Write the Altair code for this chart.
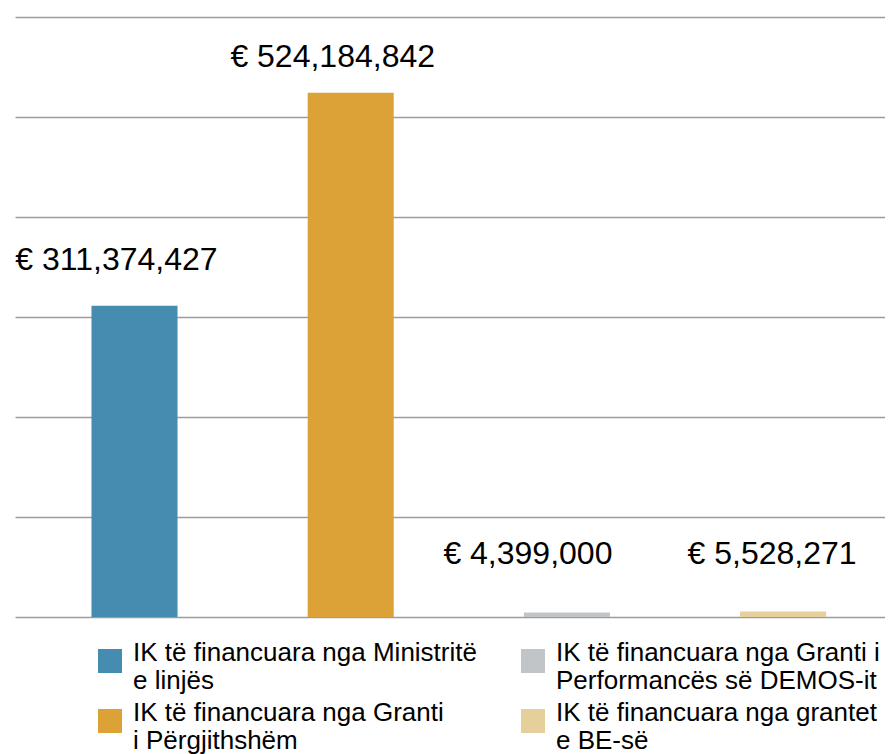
import altair as alt
import pandas as pd

categories = [
    "IK të financuara nga Ministritë|e linjës",
    "IK të financuara nga Granti|i Përgjithshëm",
    "IK të financuara nga Granti i|Performancës së DEMOS-it",
    "IK të financuara nga grantet|e BE-së",
]
values = [311374427, 524184842, 4399000, 5528271]
colors = ["#468bb0", "#dca238", "#c1c5c8", "#e5cf9a"]
grid_values = [0, 100000000, 200000000, 300000000, 400000000, 500000000, 600000000]

df = pd.DataFrame({"cat": categories, "value": values})

FONT = "Liberation Sans"

base = alt.Chart(df).encode(
    x=alt.X("cat:N", sort=categories, axis=None,
            scale=alt.Scale(paddingInner=0.602, paddingOuter=0.313, align=0.565)),
    y=alt.Y("value:Q", scale=alt.Scale(domain=[0, 600000000], nice=False),
            axis=alt.Axis(values=grid_values, grid=True, gridColor="#9c9c9c",
                          gridWidth=1.5, domain=False, ticks=False, labels=False,
                          title=None)),
)

bars = base.mark_bar().encode(
    color=alt.Color("cat:N",
                    scale=alt.Scale(domain=categories, range=colors),
                    legend=alt.Legend(
                        title=None, orient="none", legendX=82, legendY=631,
                        columns=2, columnPadding=43, rowPadding=6,
                        symbolType="square", symbolSize=576, symbolStrokeWidth=0,
                        labelFont=FONT, labelFontSize=26, labelColor="#000000",
                        labelLimit=600, labelOffset=10, labelBaseline="alphabetic",
                        labelExpr="split(datum.label, '|')",
                    )),
)


def label(idx, dx, dy):
    return base.transform_filter(
        alt.datum.cat == categories[idx]
    ).transform_calculate(
        txt="'€ ' + format(datum.value, ',')"
    ).mark_text(font=FONT, fontSize=32, color="#000000", baseline="alphabetic",
                align="center", dx=dx, dy=dy).encode(text="txt:N")


chart = alt.layer(
    bars,
    label(0, -18, -36),
    label(1, -18, -26),
    label(2, -39, -49),
    label(3, -11, -47),
).properties(
    width=870, height=600,
    padding={"left": 7, "top": 9, "right": 0, "bottom": 0},
).configure_view(stroke=None)

chart.save("out.html", embed_options={"renderer": "svg", "actions": False})
